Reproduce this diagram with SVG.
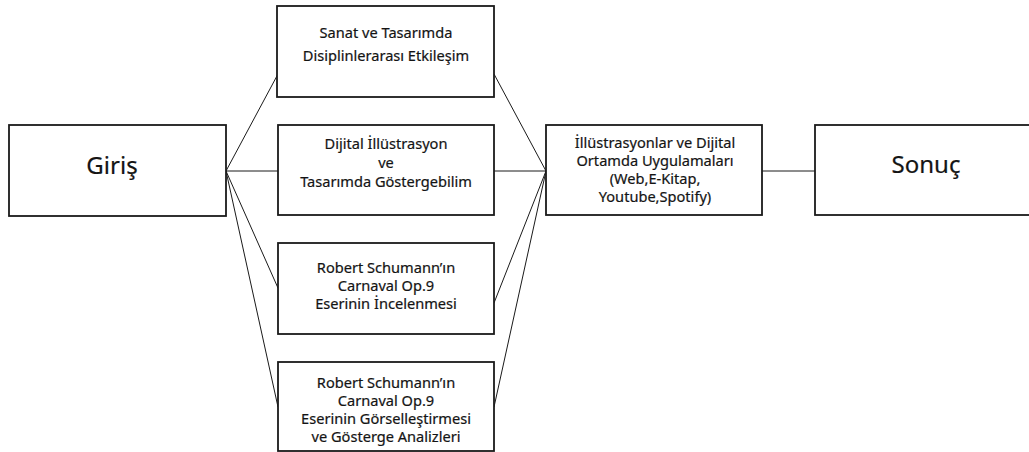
<svg xmlns="http://www.w3.org/2000/svg" width="1029" height="452" viewBox="0 0 1029 452">
  <style>
    .box { fill: #ffffff; stroke: #1a1a1a; stroke-width: 1.8; }
    .link { fill: none; stroke: #1a1a1a; stroke-width: 1; }
    .lbl { font-family: "Noto Sans", "Open Sans", sans-serif; font-size: 14.6px; fill: #141414; stroke: #141414; stroke-width: 0.2; text-anchor: middle; }
    .big { font-family: "Noto Sans", "Open Sans", sans-serif; font-size: 24px; fill: #141414; stroke: #141414; stroke-width: 0.2; text-anchor: middle; }
  </style>
  <rect x="0" y="0" width="1029" height="452" fill="#ffffff"/>

  <!-- connectors -->
  <g id="connectors">
    <line class="link" x1="226" y1="171" x2="278" y2="74"/>
    <line class="link" x1="226" y1="171" x2="278" y2="171"/>
    <line class="link" x1="226" y1="171" x2="278" y2="288"/>
    <line class="link" x1="226" y1="171" x2="278" y2="407"/>
    <line class="link" x1="494" y1="74" x2="546" y2="171"/>
    <line class="link" x1="494" y1="171" x2="546" y2="171"/>
    <line class="link" x1="494" y1="303" x2="546" y2="171"/>
    <line class="link" x1="494" y1="407" x2="546" y2="171"/>
    <line class="link" x1="762" y1="171" x2="815" y2="171"/>
  </g>

  <g id="giris">
    <rect class="box" x="9" y="125" width="217" height="91"/>
    <text class="big" x="112" y="174">Giriş</text>
  </g>

  <g id="etkilesim">
    <rect class="box" x="277" y="6" width="217" height="91"/>
    <text class="lbl" x="386" y="38">Sanat ve Tasarımda</text>
    <text class="lbl" x="386" y="61">Disiplinlerarası Etkileşim</text>
  </g>

  <g id="gostergebilim">
    <rect class="box" x="278" y="125" width="216" height="90"/>
    <text class="lbl" x="386" y="149">Dijital İllüstrasyon</text>
    <text class="lbl" x="386" y="168">ve</text>
    <text class="lbl" x="386" y="187">Tasarımda Göstergebilim</text>
  </g>

  <g id="inceleme">
    <rect class="box" x="278" y="243" width="216" height="91"/>
    <text class="lbl" x="386" y="273">Robert Schumann’ın</text>
    <text class="lbl" x="386" y="291">Carnaval Op.9</text>
    <text class="lbl" x="386" y="309">Eserinin İncelenmesi</text>
  </g>

  <g id="gorsellestirme">
    <rect class="box" x="278" y="362" width="216" height="89"/>
    <text class="lbl" x="386" y="388">Robert Schumann’ın</text>
    <text class="lbl" x="386" y="406">Carnaval Op.9</text>
    <text class="lbl" x="386" y="424">Eserinin Görselleştirmesi</text>
    <text class="lbl" x="386" y="442">ve Gösterge Analizleri</text>
  </g>

  <g id="uygulamalar">
    <rect class="box" x="546" y="125" width="216" height="90"/>
    <text class="lbl" x="655" y="148">İllüstrasyonlar ve Dijital</text>
    <text class="lbl" x="655" y="166">Ortamda Uygulamaları</text>
    <text class="lbl" x="655" y="184">(Web,E-Kitap,</text>
    <text class="lbl" x="655" y="202">Youtube,Spotify)</text>
  </g>

  <g id="sonuc">
    <rect class="box" x="815" y="125" width="230" height="90"/>
    <text class="big" x="926" y="173">Sonuç</text>
  </g>
</svg>
